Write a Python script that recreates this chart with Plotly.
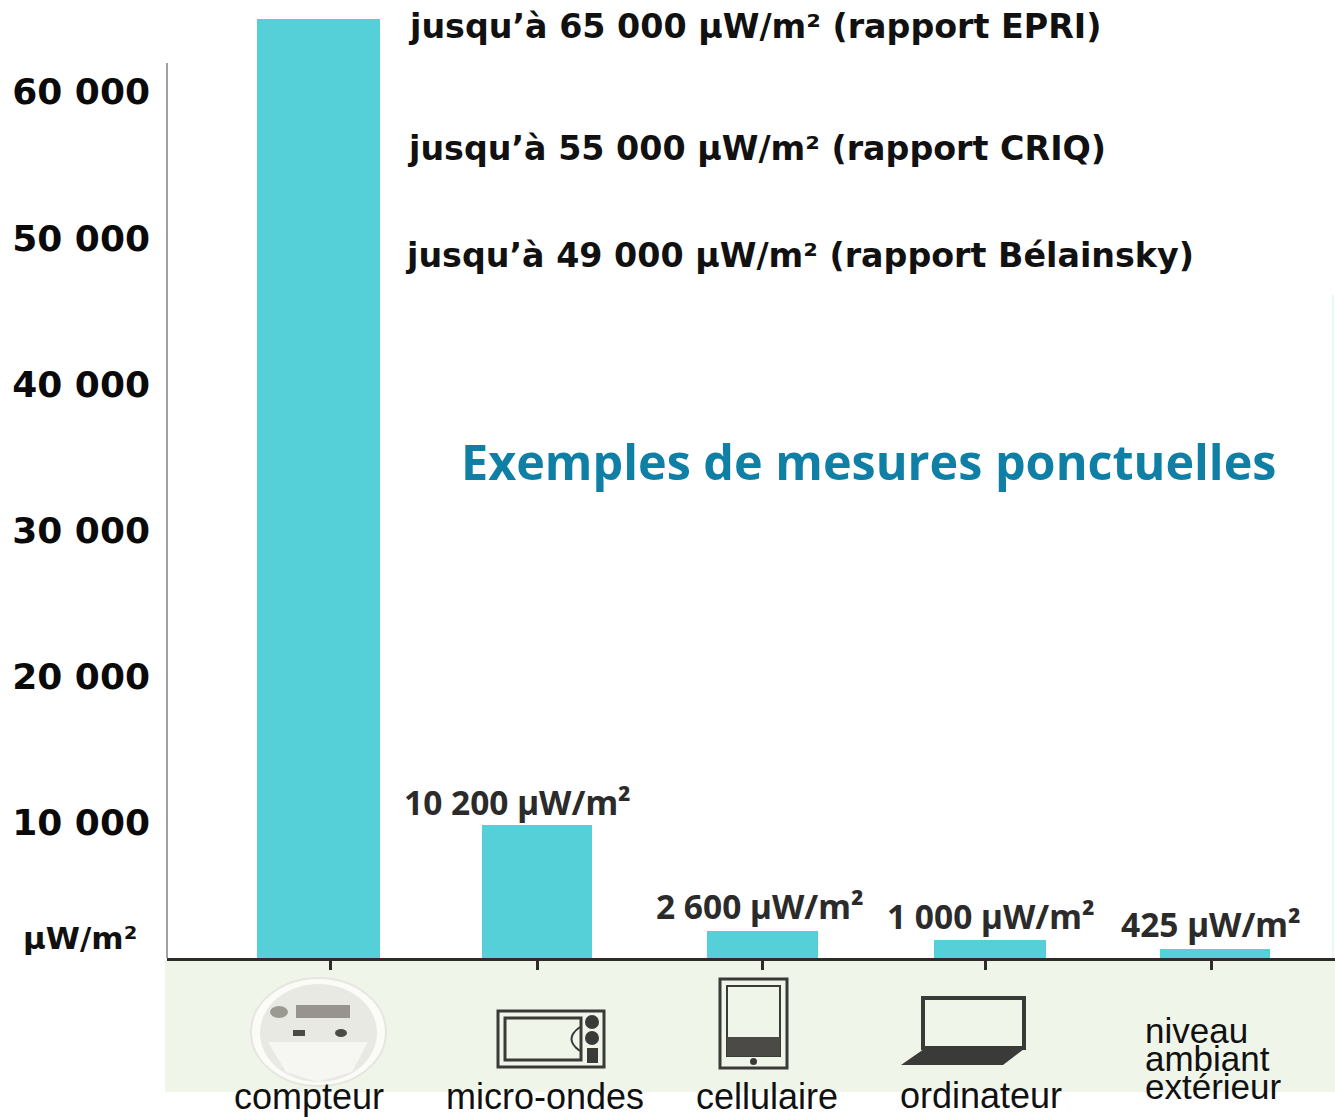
import plotly.graph_objects as go

# Valeurs
categories = ["compteur", "micro-ondes", "cellulaire", "ordinateur", "niveau ambiant extérieur"]
bar_values = [65000, 9850, 2600, 1980, 1370]
bar_labels = ["", "10 200 µW/m²", "2 600 µW/m²", "1 000 µW/m²", "425 µW/m²"]
y_ticks = [10000, 20000, 30000, 40000, 50000, 60000]
y_ticktext = ["10 000", "20 000", "30 000", "40 000", "50 000", "60 000"]
reports = ["jusqu’à 65 000 µW/m² (rapport EPRI)",
           "jusqu’à 55 000 µW/m² (rapport CRIQ)",
           "jusqu’à 49 000 µW/m² (rapport Bélainsky)"]

W, H = 1335, 1117
L, B = 167, 958
BAR = "#55cfd8"
DARK = "#3a3a38"


# pixels de l'image -> coordonnees paper
def px(x):
    return (x - L) / (W - L)


def py(y):
    return (B - y) / B


shapes = []


def rect(x0, y0, x1, y1, fill=None, line=None, width=0, layer="above"):
    shapes.append(dict(type="rect", xref="paper", yref="paper", x0=px(x0), x1=px(x1), y0=py(y0), y1=py(y1),
                       fillcolor=fill or "rgba(0,0,0,0)", line=dict(color=line or "rgba(0,0,0,0)", width=width),
                       layer=layer))


def oval(x0, y0, x1, y1, fill=None, line=None, width=0):
    shapes.append(dict(type="circle", xref="paper", yref="paper", x0=px(x0), x1=px(x1), y0=py(y0), y1=py(y1),
                       fillcolor=fill or "rgba(0,0,0,0)", line=dict(color=line or "rgba(0,0,0,0)", width=width)))


def poly(points, fill=None, line=None, width=0):
    path = "M " + " L ".join(f"{px(x)} {py(y)}" for x, y in points) + " Z"
    shapes.append(dict(type="path", xref="paper", yref="paper", path=path,
                       fillcolor=fill or "rgba(0,0,0,0)", line=dict(color=line or "rgba(0,0,0,0)", width=width)))


annotations = []


def text(x, y, s, size, family="Liberation Sans", color="#111111", bold=False, anchor="left"):
    annotations.append(dict(xref="paper", yref="paper", x=px(x), y=py(y), text=s, showarrow=False,
                            xanchor=anchor, yanchor="middle", align="left", borderpad=0,
                            font=dict(family=family, size=size, color=color, weight=700 if bold else 400)))


fig = go.Figure(go.Bar(
    x=list(range(5)),
    y=bar_values,
    width=[0.545, 0.49, 0.49, 0.495, 0.49],
    offset=[-0.243, -0.245, -0.245, -0.24, -0.24],
    marker=dict(color=BAR, line=dict(width=0)),
    hovertext=categories,
    hoverinfo="text+y",
))

# bande verte sous l'axe
rect(165, 960, W, 1092, fill="#eff5e8", layer="below")
# axe vertical gris, plus court que le tracé
shapes.append(dict(type="line", xref="paper", yref="paper", x0=0, x1=0, y0=0, y1=py(63),
                   line=dict(color="#a39fa0", width=2)))
# filet pâle à droite
shapes.append(dict(type="line", xref="paper", yref="paper", x0=px(1333), x1=px(1333), y0=0, y1=py(295),
                   line=dict(color="#e6f8f8", width=2)))

# compteur
oval(251, 978, 386, 1086, fill="#fbfbf8", line="#e6e6e0", width=2)
oval(260, 984, 377, 1082, fill="#e9e9e4")
poly([(268, 1042), (368, 1042), (352, 1072), (318, 1082), (286, 1072)], fill="#f6f6f2")
rect(296, 1005, 350, 1018, fill="#97938f")
oval(270, 1006, 288, 1018, fill="#9a9a93")
rect(293, 1030, 305, 1036, fill="#4a4a46")
oval(335, 1029, 347, 1037, fill="#4a4a46")
# micro-ondes
rect(498, 1011, 604, 1067, line=DARK, width=3)
rect(505, 1018, 581, 1060, line=DARK, width=3)
oval(585, 1015, 599, 1029, fill=DARK)
oval(585, 1031, 599, 1045, fill=DARK)
rect(587, 1048, 598, 1063, fill=DARK)
shapes.append(dict(type="path", xref="paper", yref="paper",
                   path=f"M {px(580)} {py(1027)} Q {px(563)} {py(1039)} {px(580)} {py(1051)}",
                   line=dict(color=DARK, width=2)))
# cellulaire
rect(720, 979, 787, 1068, line=DARK, width=3)
rect(727, 986, 780, 1056, line=DARK, width=2)
rect(727, 1037, 780, 1056, fill="#4b4a46")
oval(750, 1058, 757, 1065, fill=DARK)
# ordinateur
rect(923, 998, 1024, 1048, line=DARK, width=4)
poly([(924, 1049), (1024, 1049), (1003, 1065), (901, 1065)], fill=DARK)

# textes
text(407, 26, reports[0], 33.3, "DejaVu Sans", bold=True)
text(406, 148, reports[1], 33.3, "DejaVu Sans", bold=True)
text(404, 256, reports[2], 33.3, "DejaVu Sans", bold=True)
text(460, 461, "Exemples de mesures ponctuelles", 48.5, "Open Sans", "#0f7fa6", True)
text(22, 938, "µW/m²", 31, "DejaVu Sans", bold=True)
label_x = [None, 403, 655, 886, 1120]
label_y = [None, 802, 906, 916, 924]
for lx, ly, lab in zip(label_x, label_y, bar_labels):
    if lab:
        text(lx, ly, lab, 33.5, "Noto Sans", "#2b2b2b", True)
text(309, 1096, categories[0], 36, anchor="center")
text(545, 1096, categories[1], 36, anchor="center")
text(767, 1096, categories[2], 36, anchor="center")
text(981, 1095, categories[3], 36, anchor="center")
text(1144, 1030, "niveau", 35)
text(1144, 1058, "ambiant", 35)
text(1144, 1086, "extérieur", 35)

fig.update_layout(
    width=W, height=H,
    margin=dict(l=L, r=0, t=0, b=H - B),
    paper_bgcolor="white",
    plot_bgcolor="white",
    showlegend=False,
    bargap=0,
    shapes=shapes,
    annotations=annotations,
)
# le zéro du graphique tombe sous la ligne de base visible (969 px)
fig.update_yaxes(range=[752, 66280], tickvals=y_ticks, ticktext=y_ticktext, showgrid=False, zeroline=False,
                 showline=False, ticks="", ticklen=0, ticklabelstandoff=16,
                 tickfont=dict(family="DejaVu Sans", size=36, color="#0a0a0a", weight=700))
fig.update_xaxes(range=[-0.641, 4.538], tickvals=[0.085, 1, 2, 2.99, 3.99], ticktext=[""] * 5, showgrid=False,
                 zeroline=False, showline=True, linecolor="#2e2b28", linewidth=3,
                 ticks="outside", ticklen=9, tickwidth=3, tickcolor="#2e2b28")

# supprime la marge de 8 px du body
fig.write_html("out.html", config=dict(displayModeBar=False), post_script="document.body.style.margin='0';")
